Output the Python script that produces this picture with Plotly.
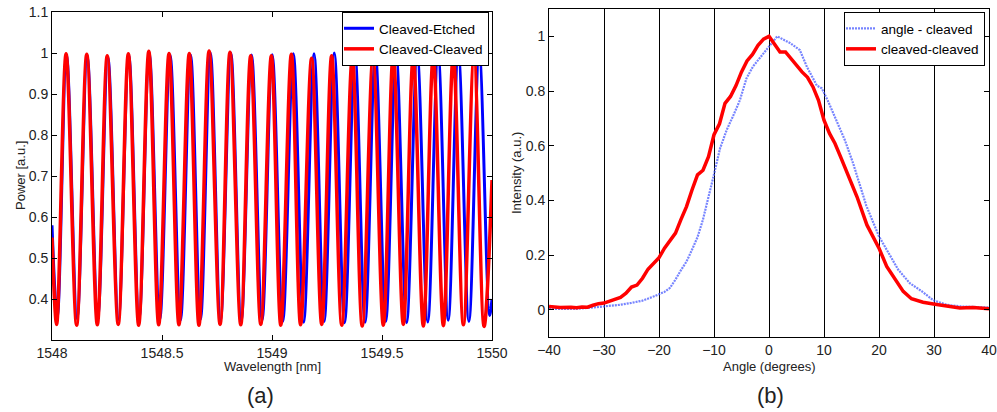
import plotly.graph_objects as go

# ---- panel (a): fringe extrema ----
# Cleaved-Cleaved (red): start, troughs/peaks, end
red_peak_wl = [1548.064, 1548.158, 1548.251, 1548.347, 1548.440, 1548.532, 1548.624,
               1548.714, 1548.809, 1548.903, 1548.997, 1549.088, 1549.180, 1549.271,
               1549.365, 1549.459, 1549.551, 1549.642, 1549.733, 1549.824, 1549.918]
red_peak_pw = [0.998, 0.997, 0.993, 0.998, 1.004, 0.999, 0.999, 1.005, 1.002, 0.993, 0.993,
               0.997, 0.987, 0.993, 0.990, 0.989, 0.997, 0.991, 0.993, 0.995, 0.989]
red_trough_wl = [1548.021, 1548.112, 1548.206, 1548.301, 1548.394, 1548.485, 1548.577,
                 1548.668, 1548.764, 1548.858, 1548.949, 1549.040, 1549.130, 1549.226,
                 1549.317, 1549.410, 1549.506, 1549.597, 1549.688, 1549.779, 1549.870, 1549.964]
red_trough_pw = [0.338, 0.336, 0.337, 0.338, 0.336, 0.337, 0.337, 0.336, 0.338, 0.337, 0.338,
                 0.336, 0.337, 0.338, 0.336, 0.334, 0.336, 0.338, 0.334, 0.335, 0.337, 0.333]
red_ends = [(1548.0, 0.55), (1550.0, 0.69)]

# Cleaved-Etched (blue)
blue_peak_wl = [1548.066, 1548.160, 1548.254, 1548.349, 1548.442, 1548.537, 1548.630,
                1548.720, 1548.813, 1548.907, 1549.001, 1549.097, 1549.191, 1549.283,
                1549.377, 1549.470, 1549.564, 1549.660, 1549.755, 1549.847, 1549.942]
blue_peak_pw = [0.995, 0.993, 0.990, 0.995, 1.000, 0.995, 0.995, 1.000, 1.000, 0.995, 0.996,
                0.998, 0.998, 1.000, 0.997, 0.998, 1.000, 0.997, 0.998, 1.000, 1.000]
blue_trough_wl = [1548.024, 1548.114, 1548.208, 1548.302, 1548.396, 1548.490, 1548.584,
                  1548.675, 1548.766, 1548.860, 1548.955, 1549.049, 1549.144, 1549.237,
                  1549.330, 1549.423, 1549.517, 1549.612, 1549.708, 1549.801, 1549.895, 1549.989]
blue_trough_pw = [0.355, 0.352, 0.355, 0.350, 0.352, 0.350, 0.348, 0.350, 0.347, 0.345, 0.348,
                  0.345, 0.343, 0.345, 0.342, 0.343, 0.345, 0.342, 0.344, 0.348, 0.345, 0.360]
blue_ends = [(1548.0, 0.58), (1550.0, 0.40)]

# ---- panel (b): far-field profiles ----
angle_red = [-40, -38, -36, -35, -34, -33, -32, -31, -30, -29, -28, -27, -26, -25, -24, -23,
             -22, -21, -20, -19, -18, -17, -16, -15, -14, -13, -12, -11, -10, -9, -8, -7,
             -6, -5, -4, -3, -2, -1, 0, 1, 2, 3, 4, 5, 6, 7, 8, 9, 10, 11, 12, 13, 14, 15,
             16, 17.8, 20, 21.4, 22.9, 24.4, 25.9, 28, 29.9, 32.3, 34.7, 37.1, 40]
int_red = [0.012, 0.008, 0.009, 0.007, 0.010, 0.009, 0.016, 0.022, 0.024, 0.030, 0.036, 0.045,
           0.060, 0.083, 0.090, 0.115, 0.148, 0.170, 0.190, 0.225, 0.255, 0.280, 0.330, 0.377,
           0.438, 0.493, 0.510, 0.560, 0.640, 0.680, 0.755, 0.780, 0.820, 0.870, 0.910, 0.934,
           0.967, 0.990, 1.000, 0.973, 0.943, 0.943, 0.918, 0.894, 0.870, 0.850, 0.815, 0.766,
           0.693, 0.645, 0.608, 0.560, 0.510, 0.456, 0.413, 0.310, 0.225, 0.158, 0.110, 0.067,
           0.040, 0.027, 0.021, 0.012, 0.006, 0.008, 0.003]

angle_blue = [-40, -35, -32, -30, -27, -25, -23, -21, -20, -19, -18, -17, -16, -15, -14, -13,
              -12, -11, -10.1, -8.9, -7.7, -6.5, -5.3, -4.1, -2.9, -1.3, 0.2, 1.5, 2.6, 3.8,
              5.6, 6.9, 8.7, 9.6, 10.8, 12.3, 13.8, 15.3, 16.8, 17.7, 20, 21.7, 23.5, 25.6,
              27.8, 29.9, 32.3, 34.7, 37.1, 40]
int_blue = [0.003, 0.003, 0.008, 0.012, 0.018, 0.025, 0.033, 0.048, 0.058, 0.065, 0.080, 0.110,
            0.145, 0.176, 0.219, 0.265, 0.330, 0.410, 0.487, 0.590, 0.657, 0.710, 0.766, 0.846,
            0.890, 0.930, 0.967, 1.000, 0.988, 0.976, 0.950, 0.888, 0.820, 0.810, 0.760, 0.693,
            0.620, 0.535, 0.438, 0.380, 0.268, 0.207, 0.146, 0.097, 0.067, 0.034, 0.018, 0.012,
            0.010, 0.008]

wl_ticks = [1548, 1548.5, 1549, 1549.5, 1550]
wl_labels = ["1548", "1548.5", "1549", "1549.5", "1550"]
pw_ticks = [0.4, 0.5, 0.6, 0.7, 0.8, 0.9, 1.0, 1.1]
pw_labels = ["0.4", "0.5", "0.6", "0.7", "0.8", "0.9", "1", "1.1"]
ang_ticks = [-40, -30, -20, -10, 0, 10, 20, 30, 40]
int_ticks = [0, 0.2, 0.4, 0.6, 0.8, 1.0]
int_labels = ["0", "0.2", "0.4", "0.6", "0.8", "1"]


def interleave(ends, tr_wl, tr_pw, pk_wl, pk_pw):
    pts = [ends[0]] + list(zip(tr_wl, tr_pw)) + list(zip(pk_wl, pk_pw)) + [ends[1]]
    pts.sort()
    return [p[0] for p in pts], [p[1] for p in pts]


bx, by = interleave(blue_ends, blue_trough_wl, blue_trough_pw, blue_peak_wl, blue_peak_pw)
rx, ry = interleave(red_ends, red_trough_wl, red_trough_pw, red_peak_wl, red_peak_pw)

W, H = 997, 412


def px(x):
    return x / W


def py(y):
    return 1 - y / H


font = "Liberation Sans, Arial, sans-serif"

fig = go.Figure()
fig.add_trace(go.Scatter(x=bx, y=by, mode="lines", name="Cleaved-Etched",
                         line=dict(color="#0000ff", width=3, shape="spline", smoothing=1.0),
                         xaxis="x", yaxis="y", legend="legend"))
fig.add_trace(go.Scatter(x=rx, y=ry, mode="lines", name="Cleaved-Cleaved",
                         line=dict(color="#ff0000", width=3.5, shape="spline", smoothing=1.0),
                         xaxis="x", yaxis="y", legend="legend"))
fig.add_trace(go.Scatter(x=angle_blue, y=int_blue, mode="lines", name="angle - cleaved",
                         line=dict(color="rgba(60,80,255,0.7)", width=2.2, dash="2px,1px"),
                         xaxis="x2", yaxis="y2", legend="legend2"))
fig.add_trace(go.Scatter(x=angle_red, y=int_red, mode="lines", name="cleaved-cleaved",
                         line=dict(color="#ff0000", width=3.5),
                         xaxis="x2", yaxis="y2", legend="legend2"))

axis_common = dict(showline=True, linecolor="black", linewidth=1, mirror="ticks",
                   ticks="inside", ticklen=5, tickcolor="black", zeroline=False,
                   automargin=False,
                   tickfont=dict(family=font, size=14, color="#222222"))

legend_common = dict(xanchor="right", yanchor="top", bgcolor="white",
                     bordercolor="black", borderwidth=1,
                     font=dict(family=font, size=13.5, color="black"),
                     itemwidth=30, tracegroupgap=0, indentation=-4)

fig.update_layout(
    width=W, height=H,
    margin=dict(l=0, r=0, t=0, b=0, autoexpand=False),
    plot_bgcolor="white", paper_bgcolor="white",
    showlegend=True,
    xaxis=dict(domain=[px(52), px(492)], range=[1548, 1550], anchor="y",
               tickvals=wl_ticks, ticktext=wl_labels, showgrid=False, **axis_common),
    yaxis=dict(domain=[py(340), py(12)], range=[0.3, 1.1], anchor="x",
               tickvals=pw_ticks, ticktext=pw_labels, showgrid=False, **axis_common),
    xaxis2=dict(domain=[px(549), px(989)], range=[-40, 40], anchor="y2",
                tickvals=ang_ticks, showgrid=True, gridcolor="black", gridwidth=1,
                **axis_common),
    yaxis2=dict(domain=[py(337), py(9)], range=[-0.1, 1.1], anchor="x2",
                tickvals=int_ticks, ticktext=int_labels, showgrid=False, **axis_common),
    legend=dict(x=px(489), y=py(12), **legend_common),
    legend2=dict(x=px(985), y=py(12), **legend_common),
)


def label(text, x, y, size=13, angle=0):
    fig.add_annotation(text=text, x=px(x), y=py(y), xref="paper", yref="paper",
                       xanchor="center", yanchor="middle", showarrow=False, textangle=angle,
                       font=dict(family=font, size=size, color="#222222"))


label("Wavelength [nm]", 272, 366)
label("Power [a.u.]", 20, 176, angle=-90)
label("Angle (degrees)", 769, 366)
label("Intensity (a.u.)", 517, 173, angle=-90)
label("(a)", 260, 395, size=22)
label("(b)", 770, 395, size=22)

# drop the page's default body margin so the figure sits at the window origin
fig.write_html("out.html", config={"displayModeBar": False},
               post_script="document.body.style.margin='0';")
